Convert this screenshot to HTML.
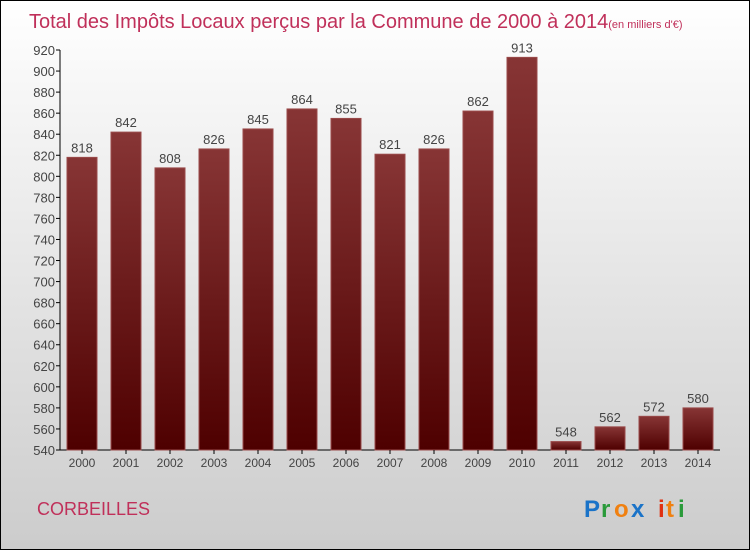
<!DOCTYPE html>
<html><head><meta charset="utf-8"><style>
body{margin:0;}
#c{width:748px;height:548px;border:1px solid #000;background:linear-gradient(#fff,#ccc);position:relative;overflow:hidden;font-family:"Liberation Sans",sans-serif;}
</style></head><body>
<div id="c">
<svg id="s" width="748" height="548" style="position:absolute;left:0;top:0">
<defs><linearGradient id="g" x1="0" y1="0" x2="0" y2="1"><stop offset="0" stop-color="#873535"/><stop offset="1" stop-color="#4e0000"/></linearGradient></defs>
<text x="28" y="27" font-size="20" fill="#c0305a">Total des Impôts Locaux perçus par la Commune de 2000 à 2014<tspan font-size="11">(en milliers d'€)</tspan></text>
<text x="36" y="514" font-size="18" fill="#c0305a">CORBEILLES</text>
<g font-size="24" font-weight="bold">
<text x="583" y="516" fill="#1a73c8">P</text><text x="600" y="516" fill="#2a9a3a">r</text><text x="613" y="516" fill="#f08010">o</text><text x="630" y="516" fill="#1a73c8">x</text><text x="657" y="516" fill="#e03010">i</text><text x="665" y="516" fill="#f08010">t</text><text x="677" y="516" fill="#2a9a3a">i</text>
</g>
</svg>
</div>
<script>
const years=["2000","2001","2002","2003","2004","2005","2006","2007","2008","2009","2010","2011","2012","2013","2014"];
const values=[818,842,808,826,845,864,855,821,826,862,913,548,562,572,580];
const ticks=[540,560,580,600,620,640,660,680,700,720,740,760,780,800,820,840,860,880,900,920];
const s=document.getElementById('s');const NS="http://www.w3.org/2000/svg";
const x0=59,step=44,bw=30,yMin=540,yMax=920,yTop=49,yBot=449;
const y=v=>yBot-(v-yMin)/(yMax-yMin)*(yBot-yTop);
function mk(t,a){const e=document.createElementNS(NS,t);for(const k in a)e.setAttribute(k,a[k]);s.appendChild(e);return e;}
const ax=mk('path',{d:`M${x0},${yTop} V${yBot} H${x0+step*years.length}`,stroke:'#000',fill:'none'});


ticks.forEach(t=>{const l=mk('line',{x1:x0-4,x2:x0,y1:y(t),y2:y(t),stroke:'#000'});


const tx=mk('text',{x:x0-5,y:y(t)+5,'text-anchor':'end','font-size':13,fill:'#444'});tx.textContent=t;

});
years.forEach((yr,i)=>{const cx=x0+step*i+step/2;
const r=mk('rect',{x:cx-bw/2,y:y(values[i]),width:bw,height:yBot-y(values[i]),fill:'url(#g)',stroke:'#9a4a4a','stroke-width':1});


const v=mk('text',{x:cx,y:y(values[i])-5,'text-anchor':'middle','font-size':13,fill:'#444'});v.textContent=values[i];


const tk=mk('line',{x1:cx,x2:cx,y1:yBot,y2:yBot+4,stroke:'#000'});


const xl=mk('text',{x:cx,y:yBot+17,'text-anchor':'middle','font-size':12,fill:'#444'});xl.textContent=yr;

});
</script>
</body></html>
